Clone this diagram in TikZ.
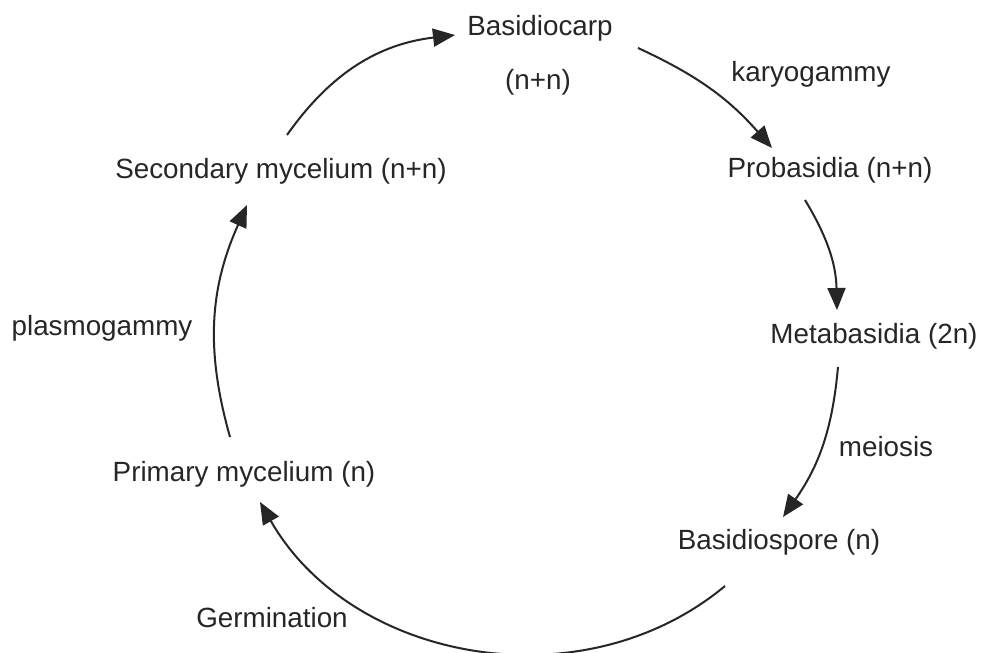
\documentclass[tikz,border=0pt]{standalone}
\usepackage{fontspec}
\setmainfont{Liberation Sans}
\usetikzlibrary{arrows.meta}

\begin{document}
\begin{tikzpicture}[x=0.5pt,y=0.5pt,
		lbl/.style={anchor=base,inner sep=0pt,font=\fontsize{13.9}{16}\selectfont,text=black!85},
		cyc/.style={-{Triangle[length=11pt,width=9pt]},line width=1pt,draw=black!85}]
		\useasboundingbox (0,0) rectangle (981,-653);
		% stages of the cycle
		\node[lbl] (carp) at (540,-35) {Basidiocarp};
		\node[lbl] (carpn) at (538,-89) {(n+n)};
		\node[lbl] (pro) at (830,-177) {Probasidia (n+n)};
		\node[lbl] (meta) at (874,-343) {Metabasidia (2n)};
		\node[lbl] (spore) at (779,-549) {Basidiospore (n)};
		\node[lbl] (prim) at (244,-481) {Primary mycelium (n)};
		\node[lbl] (sec) at (281,-178) {Secondary mycelium (n+n)};
		% processes
		\node[lbl] (karyo) at (811,-82) {karyogammy};
		\node[lbl] (mei) at (886,-456) {meiosis};
		\node[lbl] (germ) at (272,-627) {Germination};
		\node[lbl] (plasmo) at (102,-335) {plasmogammy};
		% arrow ends
		\coordinate (sec-out) at (287,-135);
		\coordinate (carp-in) at (455,-35);
		\coordinate (carp-out) at (638,-48);
		\coordinate (pro-in) at (772,-148);
		\coordinate (pro-out) at (805,-200);
		\coordinate (meta-in) at (837,-310);
		\coordinate (meta-out) at (838,-367);
		\coordinate (spore-in) at (783,-517);
		\coordinate (spore-out) at (725,-586);
		\coordinate (prim-in) at (260,-502);
		\coordinate (prim-out) at (230,-437);
		\coordinate (sec-in) at (247,-205);
		\draw[cyc] (sec-out) to[bend left=24] (carp-in);
		\draw[cyc] (carp-out) to[bend left=12] (pro-in);
		\draw[cyc] (pro-out) to[bend left=15] (meta-in);
		\draw[cyc] (meta-out) to[bend left=15] (spore-in);
		\draw[cyc] (spore-out) to[bend left=50] (prim-in);
		\draw[cyc] (prim-out) to[bend left=20] (sec-in);
	\end{tikzpicture}
\end{document}
